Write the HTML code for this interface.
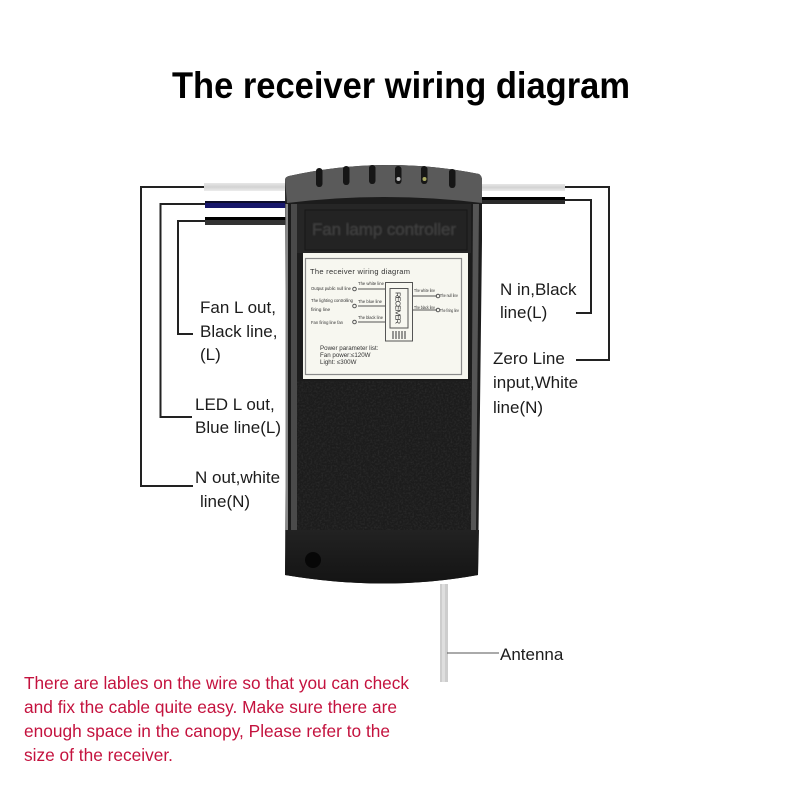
<!DOCTYPE html>
<html>
<head>
<meta charset="utf-8">
<style>
html,body{margin:0;padding:0;background:#fff;width:800px;height:800px;overflow:hidden}
svg{display:block}
text{font-family:"Liberation Sans",sans-serif}
</style>
</head>
<body>
<svg width="800" height="800" viewBox="0 0 800 800" xmlns="http://www.w3.org/2000/svg">
<defs>
<linearGradient id="bot" x1="0" y1="0" x2="0" y2="1"><stop offset="0" stop-color="#222"/><stop offset="1" stop-color="#141414"/></linearGradient>
<linearGradient id="wh" x1="0" y1="0" x2="0" y2="1"><stop offset="0" stop-color="#e6e6e6"/><stop offset=".5" stop-color="#d2d2d2"/><stop offset="1" stop-color="#ececec"/></linearGradient>
<filter id="b1"><feGaussianBlur stdDeviation="0.7"/></filter>
<filter id="b2"><feGaussianBlur stdDeviation="0.35"/></filter>
<filter id="noise" x="0" y="0" width="100%" height="100%">
<feTurbulence type="fractalNoise" baseFrequency="0.55" numOctaves="2" seed="4"/>
<feColorMatrix values="0 0 0 0 .5  0 0 0 0 .5  0 0 0 0 .5  1.4 0 0 0 -.55"/>
</filter>
</defs>
<rect width="800" height="800" fill="#fff"/>
<text x="401" y="98" font-size="37" font-weight="bold" text-anchor="middle" textLength="458" lengthAdjust="spacingAndGlyphs" fill="#000">The receiver wiring diagram</text>

<!-- wires -->
<g filter="url(#b2)">
<rect x="204" y="183" width="84" height="8" fill="url(#wh)"/>
<rect x="205" y="201" width="83" height="7" fill="#16186a"/>
<rect x="205" y="201" width="83" height="2" fill="#0d0d2a"/>
<rect x="205" y="217" width="83" height="8" fill="#333"/>
<rect x="205" y="217" width="83" height="3" fill="#050505"/>
<rect x="480" y="184" width="85" height="7" fill="url(#wh)"/>
<rect x="480" y="197" width="85" height="7" fill="#2b2b2b"/>
<rect x="480" y="197" width="85" height="3" fill="#050505"/>
</g>
<g fill="none" stroke="#222" stroke-width="2" filter="url(#b2)">
<path d="M204 187H141V486H193"/>
<path d="M205 204H160.500V417H192"/>
<path d="M205 221H178V334H193"/>
<path d="M565 200H591V313H576"/>
<path d="M565 187H609V360H576"/>
</g>

<!-- antenna -->
<rect x="440" y="584" width="8" height="98" fill="#cdcdcd"/>
<rect x="442" y="584" width="3" height="98" fill="#dedede"/>
<path d="M447 653H499" stroke="#555" stroke-width="1" fill="none"/>

<!-- body -->
<path d="M289 176Q385 155 479 174Q482 176 482 180L482 240L478 575Q385 592 285 575L286 400L285 180Q285 177 289 176Z" fill="#1c1c1c"/>
<rect x="297" y="381" width="174" height="149" filter="url(#noise)" opacity=".14"/>
<rect x="297" y="204" width="174" height="49" fill="#262626"/>
<rect x="305" y="210" width="162" height="40" fill="#232323" stroke="#171717" stroke-width="1"/>
<rect x="285.500" y="204" width="2.500" height="326" fill="#888"/>
<rect x="291" y="204" width="6" height="326" fill="#4a4a4a"/>
<polygon points="473,204 479,204 476,530 471,530" fill="#555"/>
<path d="M286 530H479L478 575Q385 592 285 575Z" fill="url(#bot)"/>
<path d="M289 176Q385 155 479 174Q482 176 482 180L482 203Q385 191 287 203L285 180Q285 177 289 176Z" fill="#5a5a5a" filter="url(#b2)"/>
<circle cx="313" cy="560" r="8" fill="#070707"/>
<!-- slots -->
<g fill="#141414" filter="url(#b2)">
<rect x="316" y="168" width="6.500" height="19" rx="3.200"/>
<rect x="343" y="166" width="6.500" height="19" rx="3.200"/>
<rect x="369" y="165" width="6.500" height="19" rx="3.200"/>
<rect x="395" y="166" width="6.500" height="18" rx="3.200"/>
<rect x="421" y="166" width="6.500" height="18" rx="3.200"/>
<rect x="449" y="169" width="6.500" height="19" rx="3.200"/>
</g>
<circle cx="398.500" cy="179" r="2" fill="#bbb"/>
<circle cx="424.500" cy="179" r="2" fill="#a8a860"/>
<text x="384" y="235" font-size="17" text-anchor="middle" textLength="144" lengthAdjust="spacing" fill="#3f3f3f" stroke="#3f3f3f" stroke-width=".5" filter="url(#b1)">Fan lamp controller</text>

<!-- label -->
<rect x="303" y="253" width="165" height="126" fill="#f7f7f0" filter="url(#b2)"/>
<rect x="305.500" y="258.500" width="156" height="116" fill="none" stroke="#8a8a8a" stroke-width="1.200"/>
<g fill="#333" filter="url(#b2)">
<text x="310" y="274" font-size="7.500" textLength="100" lengthAdjust="spacing">The receiver wiring diagram</text>
<g font-size="4.800">
<text x="311" y="290" textLength="40" lengthAdjust="spacingAndGlyphs">Output public null line</text>
<text x="311" y="302" textLength="42" lengthAdjust="spacingAndGlyphs">The lighting controlling</text>
<text x="311" y="311">firing line</text>
<text x="311" y="324" textLength="32" lengthAdjust="spacingAndGlyphs">Fan firing line fan</text>
<text x="358" y="285" textLength="26" lengthAdjust="spacingAndGlyphs">The white line</text>
<text x="358" y="303" textLength="24" lengthAdjust="spacingAndGlyphs">The blue line</text>
<text x="358" y="319" textLength="25" lengthAdjust="spacingAndGlyphs">The black line</text>
<text x="414" y="292" textLength="21" lengthAdjust="spacingAndGlyphs">The white line</text>
<text x="414" y="309" textLength="21" lengthAdjust="spacingAndGlyphs">The black line</text>
<text x="440" y="297" textLength="18" lengthAdjust="spacingAndGlyphs">The null line</text>
<text x="440" y="312" textLength="19" lengthAdjust="spacingAndGlyphs">The firing line</text>
</g>
<g font-size="6.200">
<text x="320" y="350">Power parameter list:</text>
<text x="320" y="357">Fan power:≤120W</text>
<text x="320" y="364">Light: ≤300W</text>
</g>
<text transform="translate(395.500,292) rotate(90)" font-size="7.500" textLength="32" lengthAdjust="spacing">RECEIVER</text>
</g>
<g fill="none" stroke="#555" stroke-width="1">
<rect x="385.500" y="282.500" width="27" height="58.500"/>
<rect x="390" y="288.500" width="18" height="39.500"/>
<path d="M358 289H385M358 306H385M358 322H385M413 296H437M413 310H437"/>
<path d="M393 331v8M396 331v8M399 331v8M402 331v8M405 331v8" stroke="#333"/>
<circle cx="354.500" cy="289" r="1.800"/>
<circle cx="354.500" cy="306" r="1.800"/>
<circle cx="354.500" cy="322" r="1.800"/>
<circle cx="438" cy="296" r="1.800"/>
<circle cx="438" cy="310" r="1.800"/>
</g>

<!-- callouts -->
<g font-size="17" fill="#1c1c1c">
<text x="200" y="313">Fan L out,</text>
<text x="200" y="337">Black line,</text>
<text x="200" y="360">(L)</text>
<text x="195" y="410">LED L out,</text>
<text x="195" y="433">Blue line(L)</text>
<text x="195" y="483">N out,white</text>
<text x="200" y="507">line(N)</text>
<text x="500" y="295">N in,Black</text>
<text x="500" y="318">line(L)</text>
<text x="493" y="364">Zero Line</text>
<text x="493" y="388">input,White</text>
<text x="493" y="413">line(N)</text>
<text x="500" y="660">Antenna</text>
</g>
<g font-size="17.500" fill="#c4123e">
<text x="24" y="689" textLength="385" lengthAdjust="spacingAndGlyphs">There are lables on the wire so that you can check</text>
<text x="24" y="713" textLength="373" lengthAdjust="spacingAndGlyphs">and fix the cable quite easy. Make sure there are</text>
<text x="24" y="737" textLength="366" lengthAdjust="spacingAndGlyphs">enough space in the canopy, Please refer to the</text>
<text x="24" y="761" textLength="149" lengthAdjust="spacingAndGlyphs">size of the receiver.</text>
</g>
</svg>
</body>
</html>
